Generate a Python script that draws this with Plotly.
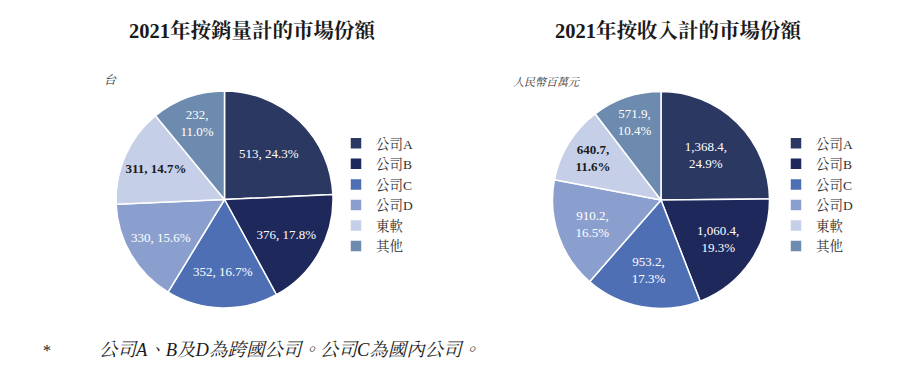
import plotly.graph_objects as go

labels = ["公司A", "公司B", "公司C", "公司D", "東軟", "其他"]
volume = [513, 376, 352, 330, 311, 232]
revenue = [1368.4, 1060.4, 953.2, 910.2, 640.7, 571.9]
colors = ["#2b3862", "#1f285b", "#4f6fb5", "#8b9fcf", "#c6cfe8", "#6d8bae"]
title_left = "2021年按銷量計的市場份額"
title_right = "2021年按收入計的市場份額"
unit_left = "台"
unit_right = "人民幣百萬元"
footnote = "公司A、B及D為跨國公司。公司C為國內公司。"

serif = "Liberation Serif, Times New Roman, Noto Serif CJK TC, Noto Sans CJK TC, serif"
W, H = 920, 371
OFF = 8  # browser body margin

text_colors = ["white", "white", "white", "white", "#1a1a1a", "white"]
tmpl_left = ["%{value}, %{percent:.1%}"] * 6
tmpl_left[4] = "<b>%{value}, %{percent:.1%}</b>"
tmpl_left[5] = "%{value},<br>%{percent:.1%}"
tmpl_right = ["%{value:,.1f},<br>%{percent:.1%}"] * 6
tmpl_right[4] = "<b>%{value:,.1f},<br>%{percent:.1%}</b>"

def px(x):
    return (x - OFF) / W

def py(y):
    return 1 - (y - OFF) / H

def dom(cx, cy, r):
    return dict(x=[px(cx - r), px(cx + r)], y=[py(cy + r), py(cy - r)])

# second pie needs distinct label keys so that its own legend is drawn
labels2 = [l + "\u200b" for l in labels]

fig = go.Figure()
fig.add_trace(go.Pie(
    labels=labels, values=volume, sort=False, direction="clockwise", rotation=0,
    marker=dict(colors=colors, line=dict(color="white", width=1.5)),
    texttemplate=tmpl_left, textposition="inside", insidetextorientation="horizontal",
    textfont=dict(family=serif, size=13, color=text_colors),
    domain=dom(224.5, 199.5, 108.5), legend="legend", hoverinfo="label+value+percent",
))
fig.add_trace(go.Pie(
    labels=labels2, values=revenue, sort=False, direction="clockwise", rotation=0,
    marker=dict(colors=colors, line=dict(color="white", width=1.5)),
    texttemplate=tmpl_right, textposition="inside", insidetextorientation="horizontal",
    textfont=dict(family=serif, size=13, color=text_colors),
    domain=dom(661, 200, 108.5), legend="legend2", hoverinfo="label+value+percent",
))

leg_common = dict(font=dict(family=serif, size=13.5, color="#333333"), bgcolor="rgba(0,0,0,0)",
                  xanchor="left", yanchor="top", itemwidth=30, tracegroupgap=0)
fig.update_layout(
    width=W, height=H,
    margin=dict(l=0, r=0, t=0, b=0),
    paper_bgcolor="white", plot_bgcolor="white",
    legend=dict(x=px(336), y=py(128), **leg_common),
    legend2=dict(x=px(776), y=py(128), **leg_common),
    showlegend=True,
)

annos = [
    dict(text="<b>" + title_left + "</b>", x=px(252), y=py(30), font=dict(size=20.5, color="#1a1a1a")),
    dict(text="<b>" + title_right + "</b>", x=px(678), y=py(30), font=dict(size=20.5, color="#1a1a1a")),
    dict(text="<i>" + unit_left + "</i>", x=px(102), y=py(80), font=dict(size=12, color="#333333"), xanchor="left"),
    dict(text="<i>" + unit_right + "</i>", x=px(511), y=py(82), font=dict(size=11, color="#333333"), xanchor="left"),
    dict(text="*", x=px(41), y=py(350), font=dict(size=16, color="#1a1a1a"), xanchor="left"),
    dict(text="<i>" + footnote + "</i>", x=px(97), y=py(350), font=dict(size=18.5, color="#1a1a1a"), xanchor="left"),
]
for a in annos:
    a.setdefault("xanchor", "center")
    a["font"]["family"] = serif
    fig.add_annotation(xref="paper", yref="paper", yanchor="middle", showarrow=False, **a)

fig.write_html("out.html")
